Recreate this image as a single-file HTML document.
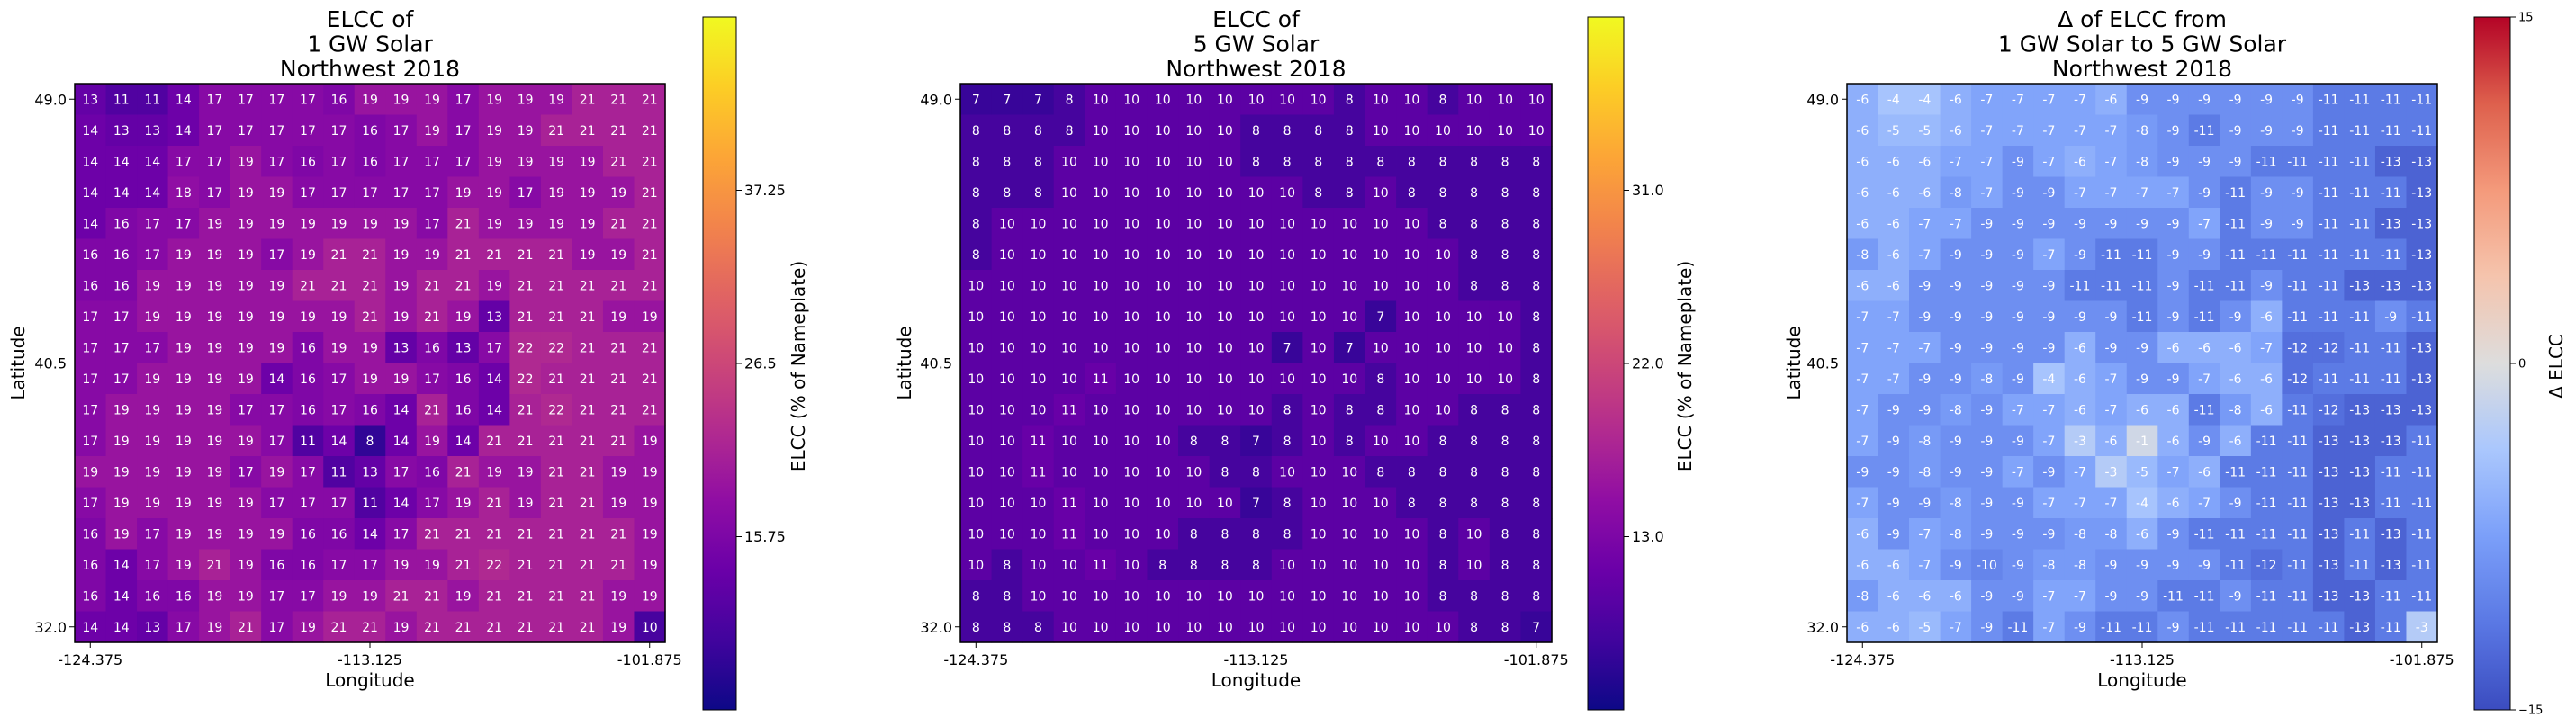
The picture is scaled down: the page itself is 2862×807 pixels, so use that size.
<!DOCTYPE html>
<html><head><meta charset="utf-8"><style>
html,body{margin:0;padding:0;background:#fff;}
svg{display:block;font-family:"DejaVu Sans","Liberation Sans",sans-serif;}
</style></head><body>
<svg id="root" width="2862" height="807" viewBox="0 0 2862 807" xmlns="http://www.w3.org/2000/svg"></svg>
<script>
const lons = [-124.375,-123.125,-121.875,-120.625,-119.375,-118.125,-116.875,-115.625,-114.375,-113.125,-111.875,-110.625,-109.375,-108.125,-106.875,-105.625,-104.375,-103.125,-101.875];
const lats = [49,48,47,46,45,44,43,42,41,40,39,38,37,36,35,34,33,32];
const elcc1GW = [
[13,11,11,14,17,17,17,17,16,19,19,19,17,19,19,19,21,21,21],
[14,13,13,14,17,17,17,17,17,16,17,19,17,19,19,21,21,21,21],
[14,14,14,17,17,19,17,16,17,16,17,17,17,19,19,19,19,21,21],
[14,14,14,18,17,19,19,17,17,17,17,17,19,19,17,19,19,19,21],
[14,16,17,17,19,19,19,19,19,19,19,17,21,19,19,19,19,21,21],
[16,16,17,19,19,19,17,19,21,21,19,19,21,21,21,21,19,19,21],
[16,16,19,19,19,19,19,21,21,21,19,21,21,19,21,21,21,21,21],
[17,17,19,19,19,19,19,19,19,21,19,21,19,13,21,21,21,19,19],
[17,17,17,19,19,19,19,16,19,19,13,16,13,17,22,22,21,21,21],
[17,17,19,19,19,19,14,16,17,19,19,17,16,14,22,21,21,21,21],
[17,19,19,19,19,17,17,16,17,16,14,21,16,14,21,22,21,21,21],
[17,19,19,19,19,19,17,11,14,8,14,19,14,21,21,21,21,21,19],
[19,19,19,19,19,17,19,17,11,13,17,16,21,19,19,21,21,19,19],
[17,19,19,19,19,19,17,17,17,11,14,17,19,21,19,21,21,19,19],
[16,19,17,19,19,19,19,16,16,14,17,21,21,21,21,21,21,21,19],
[16,14,17,19,21,19,16,16,17,17,19,19,21,22,21,21,21,21,19],
[16,14,16,16,19,19,17,17,19,19,21,21,19,21,21,21,21,19,19],
[14,14,13,17,19,21,17,19,21,21,19,21,21,21,21,21,21,19,10]];
const elcc5GW = [
[7,7,7,8,10,10,10,10,10,10,10,10,8,10,10,8,10,10,10],
[8,8,8,8,10,10,10,10,10,8,8,8,8,10,10,10,10,10,10],
[8,8,8,10,10,10,10,10,10,8,8,8,8,8,8,8,8,8,8],
[8,8,8,10,10,10,10,10,10,10,10,8,8,10,8,8,8,8,8],
[8,10,10,10,10,10,10,10,10,10,10,10,10,10,10,8,8,8,8],
[8,10,10,10,10,10,10,10,10,10,10,10,10,10,10,10,8,8,8],
[10,10,10,10,10,10,10,10,10,10,10,10,10,10,10,10,8,8,8],
[10,10,10,10,10,10,10,10,10,10,10,10,10,7,10,10,10,10,8],
[10,10,10,10,10,10,10,10,10,10,7,10,7,10,10,10,10,10,8],
[10,10,10,10,11,10,10,10,10,10,10,10,10,8,10,10,10,10,8],
[10,10,10,11,10,10,10,10,10,10,8,10,8,8,10,10,8,8,8],
[10,10,11,10,10,10,10,8,8,7,8,10,8,10,10,8,8,8,8],
[10,10,11,10,10,10,10,10,8,8,10,10,10,8,8,8,8,8,8],
[10,10,10,11,10,10,10,10,10,7,8,10,10,10,8,8,8,8,8],
[10,10,10,11,10,10,10,8,8,8,8,10,10,10,10,8,10,8,8],
[10,8,10,10,11,10,8,8,8,8,10,10,10,10,10,8,10,8,8],
[8,8,10,10,10,10,10,10,10,10,10,10,10,10,10,8,8,8,8],
[8,8,8,10,10,10,10,10,10,10,10,10,10,10,10,10,8,8,7]];
const deltaElcc = [
[-6,-4,-4,-6,-7,-7,-7,-7,-6,-9,-9,-9,-9,-9,-9,-11,-11,-11,-11],
[-6,-5,-5,-6,-7,-7,-7,-7,-7,-8,-9,-11,-9,-9,-9,-11,-11,-11,-11],
[-6,-6,-6,-7,-7,-9,-7,-6,-7,-8,-9,-9,-9,-11,-11,-11,-11,-13,-13],
[-6,-6,-6,-8,-7,-9,-9,-7,-7,-7,-7,-9,-11,-9,-9,-11,-11,-11,-13],
[-6,-6,-7,-7,-9,-9,-9,-9,-9,-9,-9,-7,-11,-9,-9,-11,-11,-13,-13],
[-8,-6,-7,-9,-9,-9,-7,-9,-11,-11,-9,-9,-11,-11,-11,-11,-11,-11,-13],
[-6,-6,-9,-9,-9,-9,-9,-11,-11,-11,-9,-11,-11,-9,-11,-11,-13,-13,-13],
[-7,-7,-9,-9,-9,-9,-9,-9,-9,-11,-9,-11,-9,-6,-11,-11,-11,-9,-11],
[-7,-7,-7,-9,-9,-9,-9,-6,-9,-9,-6,-6,-6,-7,-12,-12,-11,-11,-13],
[-7,-7,-9,-9,-8,-9,-4,-6,-7,-9,-9,-7,-6,-6,-12,-11,-11,-11,-13],
[-7,-9,-9,-8,-9,-7,-7,-6,-7,-6,-6,-11,-8,-6,-11,-12,-13,-13,-13],
[-7,-9,-8,-9,-9,-9,-7,-3,-6,-1,-6,-9,-6,-11,-11,-13,-13,-13,-11],
[-9,-9,-8,-9,-9,-7,-9,-7,-3,-5,-7,-6,-11,-11,-11,-13,-13,-11,-11],
[-7,-9,-9,-8,-9,-9,-7,-7,-7,-4,-6,-7,-9,-11,-11,-13,-13,-11,-11],
[-6,-9,-7,-8,-9,-9,-9,-8,-8,-6,-9,-11,-11,-11,-11,-13,-11,-13,-11],
[-6,-6,-7,-9,-10,-9,-8,-8,-9,-9,-9,-9,-11,-12,-11,-13,-11,-13,-11],
[-8,-6,-6,-6,-9,-9,-7,-7,-9,-9,-11,-11,-9,-11,-11,-13,-13,-11,-11],
[-6,-6,-5,-7,-9,-11,-7,-9,-11,-11,-9,-11,-11,-11,-11,-11,-13,-11,-3]];
const xTickLons = [-124.375,-113.125,-101.875];
const xTickLabels = ["-124.375","-113.125","-101.875"];
const yTickLats = [49.0,40.5,32.0];
const yTickLabels = ["49.0","40.5","32.0"];
const cb1Ticks = [15.75,26.5,37.25];
const cb1Labels = ["15.75","26.5","37.25"];
const cb2Ticks = [13.0,22.0,31.0];
const cb2Labels = ["13.0","22.0","31.0"];
const cb3Ticks = [-15,0,15];
const cb3Labels = ["\u221215","0","15"];

const plasma = [[13,8,135],[65,4,157],[106,0,168],[143,13,164],[177,42,144],[204,71,120],[225,100,98],[242,132,75],[252,166,54],[252,206,37],[240,249,33]];
const coolwarm = [[59,76,192],[90,120,228],[123,159,249],[170,199,253],[221,221,221],[245,196,173],[244,154,123],[222,96,77],[180,4,38]];
function cmap(stops,t){
  t=Math.max(0,Math.min(1,t));
  const p=t*(stops.length-1), i=Math.min(stops.length-2,Math.floor(p)), f=p-i;
  const a=stops[i],b=stops[i+1];
  return 'rgb('+a.map((v,k)=>Math.round(v+(b[k]-v)*f)).join(',')+')';
}
const NS='http://www.w3.org/2000/svg';
const root=document.getElementById('root');
function mk(tag,attrs,parent,txt){
  const e=document.createElementNS(NS,tag);
  for(const k in attrs)e.setAttribute(k,attrs[k]);
  if(txt!==undefined)e.textContent=txt;
  (parent||root).appendChild(e);return e;
}
const H0=93,H1=714,CB0=19,CB1=789;
const panels=[
 {key:'1gw',x0:83,x1:739,data:elcc1GW,vmin:5,vmax:48,stops:plasma,cbx:781,cbw:37,ticks:cb1Ticks,labels:cb1Labels,tf:16,
  title:['ELCC of','1 GW Solar','Northwest 2018'],cbLabel:'ELCC (% of Nameplate)',cbLabelX:887,latX:20},
 {key:'5gw',x0:1067,x1:1724,data:elcc5GW,vmin:4,vmax:40,stops:plasma,cbx:1764,cbw:40,ticks:cb2Ticks,labels:cb2Labels,tf:16,
  title:['ELCC of','5 GW Solar','Northwest 2018'],cbLabel:'ELCC (% of Nameplate)',cbLabelX:1872,latX:1005},
 {key:'delta',x0:2052,x1:2708,data:deltaElcc,vmin:-15,vmax:15,stops:coolwarm,cbx:2749,cbw:40,ticks:cb3Ticks,labels:cb3Labels,tf:13,
  title:['\u0394 of ELCC from','1 GW Solar to 5 GW Solar','Northwest 2018'],cbLabel:'\u0394 ELCC',cbLabelX:2840,latX:1993}
];
panels.forEach(P=>{
  const g=mk('g',{});
  
  
  const cw=(P.x1-P.x0)/lons.length, ch=(H1-H0)/lats.length;
  const xs=lon=>P.x0+(lon-lons[0])/(lons[1]-lons[0])*cw+cw/2;
  const ys=lat=>H0+(lats[0]-lat)/(lats[0]-lats[1])*ch+ch/2;
  const cs=v=>CB1-(v-P.vmin)/(P.vmax-P.vmin)*(CB1-CB0);
  lats.forEach((lat,r)=>lons.forEach((lon,c)=>{
    const v=P.data[r][c];
    const cell=mk('rect',{x:xs(lon)-cw/2,y:ys(lat)-ch/2,width:cw+0.6,height:ch+0.6,fill:cmap(P.stops,(v-P.vmin)/(P.vmax-P.vmin))},g);
    
    
    const t=mk('text',{x:xs(lon),y:ys(lat)+5,'text-anchor':'middle','font-size':14,fill:'#fff'},g,String(v));
    
    
  }));
  const fr=mk('rect',{x:P.x0,y:H0,width:P.x1-P.x0,height:H1-H0,fill:'none',stroke:'#000','stroke-width':1.5},g);
  
  
  xTickLons.forEach((lon,i)=>{
    mk('line',{x1:xs(lon),x2:xs(lon),y1:H1,y2:H1+6,stroke:'#000'},g);
    const t=mk('text',{x:xs(lon),y:H1+25,'text-anchor':'middle','font-size':16},g,xTickLabels[i]);
    
    
  });
  yTickLats.forEach((lat,i)=>{
    mk('line',{x1:P.x0-6,x2:P.x0,y1:ys(lat),y2:ys(lat),stroke:'#000'},g);
    const t=mk('text',{x:P.x0-9,y:ys(lat)+6,'text-anchor':'end','font-size':16},g,yTickLabels[i]);
    
    
  });
  const xl=mk('text',{x:(P.x0+P.x1)/2,y:763,'text-anchor':'middle','font-size':20},g,'Longitude');
  
  
  const yl=mk('text',{x:0,y:0,'text-anchor':'middle','font-size':20,transform:'translate('+(P.latX+7)+','+(H0+H1)/2+') rotate(-90)'},g,'Latitude');
  
  
  P.title.forEach((line,i)=>{
    const t=mk('text',{x:(P.x0+P.x1)/2,y:30+i*27.5,'text-anchor':'middle','font-size':25},g,line);
    
    
  });
  const gid='grad-'+P.key;
  const lg=mk('linearGradient',{id:gid,x1:0,y1:1,x2:0,y2:0},g);
  for(let k=0;k<=40;k++)mk('stop',{offset:k/40,'stop-color':cmap(P.stops,k/40)},lg);
  const cb=mk('rect',{x:P.cbx,y:CB0,width:P.cbw,height:CB1-CB0,fill:'url(#'+gid+')',stroke:'#000','stroke-width':1},g);
  
  
  P.ticks.forEach((v,i)=>{
    mk('line',{x1:P.cbx+P.cbw,x2:P.cbx+P.cbw+6,y1:cs(v),y2:cs(v),stroke:'#000'},g);
    const t=mk('text',{x:P.cbx+P.cbw+9,y:cs(v)+P.tf*0.35,'font-size':P.tf},g,P.labels[i]);
    
    
  });
  const cl=mk('text',{x:0,y:0,'text-anchor':'middle','font-size':20,transform:'translate('+(P.cbLabelX+7)+',407) rotate(-90)'},g,P.cbLabel);
  
  
});
</script>
</body></html>
